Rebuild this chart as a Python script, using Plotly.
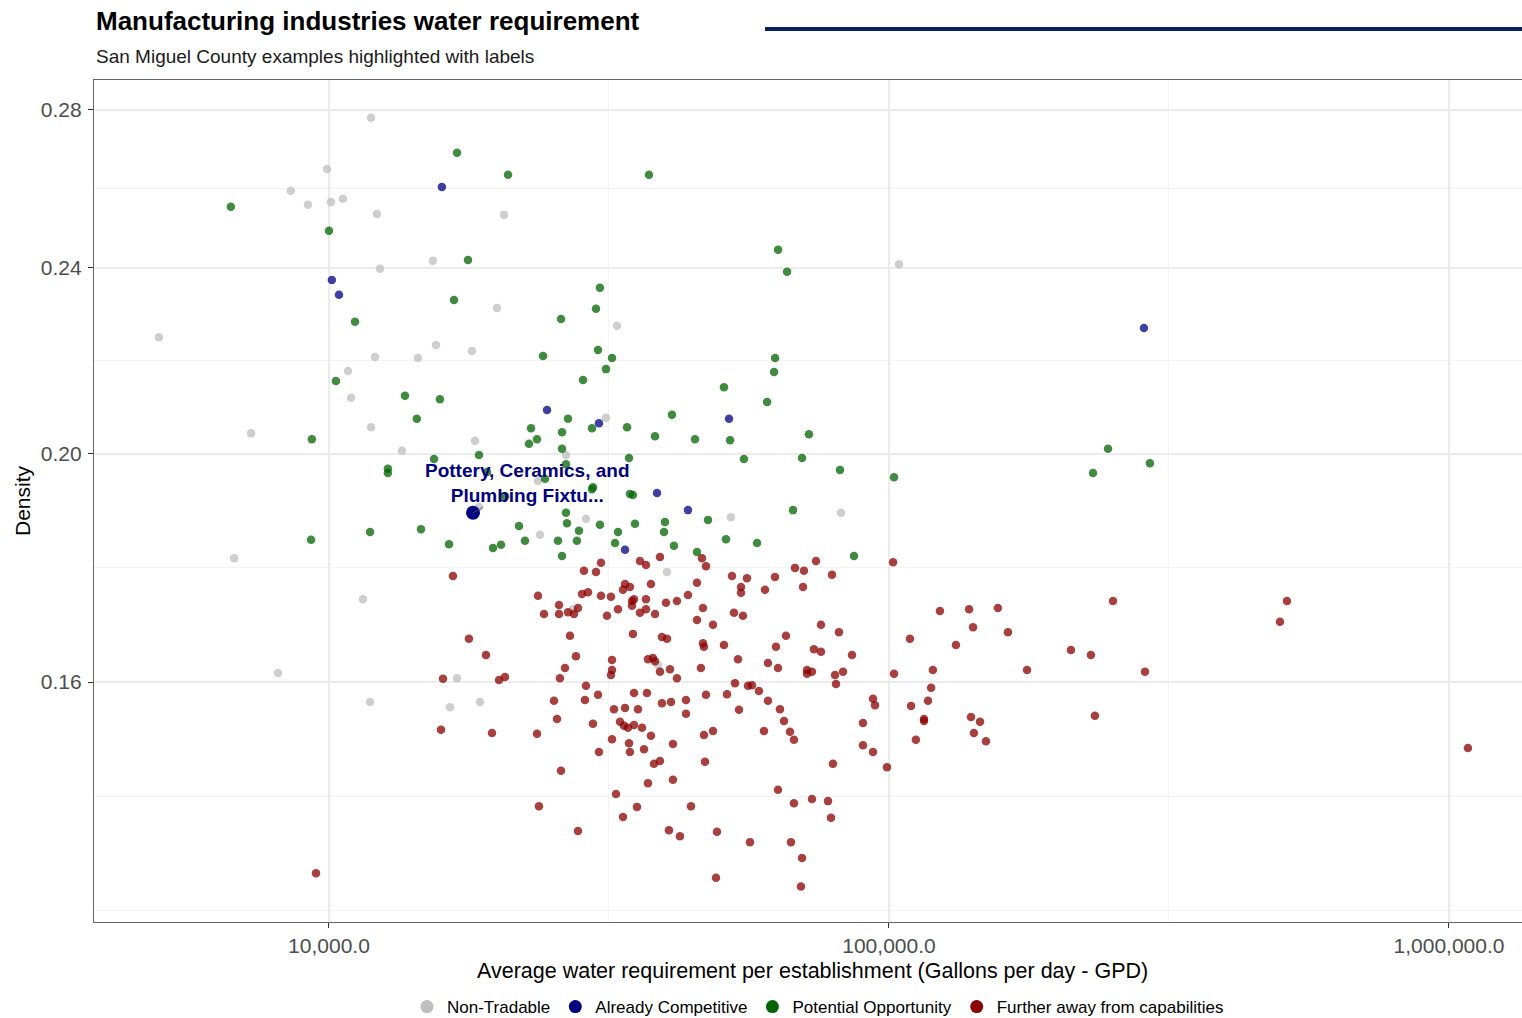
import math
import plotly.graph_objects as go

# ---------------- data ----------------
categories = ["Non-Tradable", "Already Competitive", "Potential Opportunity",
              "Further away from capabilities"]
cat_colors = ["#BEBEBE", "#000080", "#006400", "#8B0000"]

nontradable_gpd = [11890, 9920, 8550, 9170, 10080, 10590, 12180, 12330, 4970, 12080,
                   14410, 10810, 10950, 7260, 11890, 13500, 6770, 11500, 8110, 11840,
                   15330, 20540, 19950, 32680, 15530, 18000, 31240, 18230, 26500, 23620,
                   18530, 28770, 23810, 52220, 104200, 82090, 40140, 27270, 38680, 16930,
                   16450, 18610]
nontradable_density = [0.2779, 0.2643, 0.2587, 0.2552, 0.2559, 0.2567, 0.2529, 0.2397, 0.2242, 0.2199,
                       0.2197, 0.2169, 0.2113, 0.2041, 0.2053, 0.2006, 0.1806, 0.1735, 0.1614, 0.1569,
                       0.2416, 0.2527, 0.2307, 0.2267, 0.2225, 0.2212, 0.2072, 0.2026, 0.1998, 0.1948,
                       0.1899, 0.1877, 0.1848, 0.1880, 0.2408, 0.1888, 0.1782, 0.1718, 0.1627, 0.1606,
                       0.1561, 0.1569]

competitive_gpd = [15910, 10120, 10420, 24510, 30350, 51810, 38530, 43760, 33780, 285300]
competitive_density = [0.2597, 0.2371, 0.2337, 0.2088, 0.2061, 0.2070, 0.1925, 0.1893, 0.1821, 0.2262]

opportunity_gpd = [6680, 10000, 11130, 10290, 13670, 14350, 9320, 12740, 12740, 9290,
                   11840, 14600, 16930, 20880, 37280, 17710, 63380, 65770, 30470, 16720,
                   29980, 25960, 24110, 30230, 32020, 31240, 28420, 15780, 26720, 22950,
                   29490, 34060, 26070, 23520, 22760, 26070, 18530, 15400, 26500, 34340,
                   24310, 29610, 29490, 19150, 34470, 34900, 26500, 26610, 30470, 21840,
                   27950, 27720, 25640, 22390, 16380, 19630, 20290, 26070, 32420, 32820,
                   20620, 35190, 39810, 39650, 41310, 45410, 47510, 51160, 58130, 67400,
                   40970, 38210, 45040, 52030, 55080, 50740, 62600, 62340, 60570, 71970,
                   69930, 81750, 102100, 246100, 231400, 292400, 86600]
opportunity_density = [0.2547, 0.2488, 0.2276, 0.2148, 0.2117, 0.2070, 0.2029, 0.1971, 0.1963, 0.1839,
                       0.1853, 0.1858, 0.2685, 0.2628, 0.2628, 0.2418, 0.2442, 0.2390, 0.2353, 0.2325,
                       0.2305, 0.2282, 0.2201, 0.2214, 0.2197, 0.2173, 0.2150, 0.2110, 0.2070, 0.2051,
                       0.2051, 0.2053, 0.2043, 0.2029, 0.2020, 0.2010, 0.1998, 0.1990, 0.1980, 0.1992,
                       0.1952, 0.1936, 0.1932, 0.1965, 0.1923, 0.1921, 0.1888, 0.1869, 0.1866, 0.1864,
                       0.1855, 0.1837, 0.1837, 0.1837, 0.1831, 0.1824, 0.1830, 0.1810, 0.1833, 0.1853,
                       0.1919, 0.1868, 0.1871, 0.1853, 0.1828, 0.1817, 0.1875, 0.1840, 0.1833, 0.1893,
                       0.2078, 0.2035, 0.2029, 0.2027, 0.1990, 0.2135, 0.2197, 0.2167, 0.2104, 0.2039,
                       0.1992, 0.1969, 0.1955, 0.2010, 0.1963, 0.1982, 0.1810]

further_gpd = [9480, 16650, 30600, 28530, 29980, 35920, 36820, 39000, 46350, 47120,
               52440, 55770, 62580, 67940, 70500, 74070, 54420, 54420, 60060, 70220,
               45410, 37580, 33780, 34470, 33500, 23620, 28300, 29010, 30600, 31880,
               35050, 34760, 34760, 36820, 39970, 41820, 43760, 25750, 27840, 26720,
               27380, 24210, 25750, 31360, 32820, 35920, 36820, 38210, 46540, 52870,
               54860, 45410, 48500, 65470, 62840, 73460, 17780, 26940, 34900, 39320,
               40140, 46540, 46730, 50740, 19070, 27610, 32020, 37120, 37890, 38210,
               53750, 60800, 63360, 71380, 72860, 71380, 46160, 40640, 39000, 26390,
               32020, 31880, 15980, 20120, 20620, 25850, 41820, 53090, 56000, 56930,
               58590, 28770, 30230, 35050, 36970, 47120, 51370, 60800, 25220, 28650,
               39320, 40810, 43400, 32280, 33780, 35630, 43400, 53970, 63880, 25540,
               29610, 33090, 33640, 34190, 35050, 36220, 64940, 15850, 19550, 23520,
               46730, 48500, 59810, 66560, 37580, 32020, 34340, 34470, 36520, 41140,
               67660, 30350, 25960, 38050, 39000, 46930, 37120, 41140, 63360, 67660,
               72860, 32550, 23710, 35480, 44300, 33500, 27840, 40470, 42340, 49300,
               56470, 66830, 69930, 49100, 69640, 75610, 81420, 79110, 101700, 251200,
               123300, 139000, 156500, 141300, 163100, 109000, 131700, 75610, 85890, 211300,
               229400, 80090, 82770, 80420, 102100, 119800, 176400, 286500, 118900, 93630,
               94410, 117400, 109500, 115500, 115500, 140100, 145400, 141800, 149000, 233200,
               89860, 111700, 89860, 93630, 79430, 99180, 77820, 78780, 513700, 499100,
               1081000]
further_density = [0.1327, 0.1775, 0.1798, 0.1784, 0.1782, 0.1801, 0.1794, 0.1808, 0.1806, 0.1792,
                   0.1775, 0.1771, 0.1773, 0.1789, 0.1784, 0.1801, 0.1756, 0.1746, 0.1751, 0.1756,
                   0.1763, 0.1761, 0.1761, 0.1756, 0.1751, 0.1741, 0.1744, 0.1747, 0.1741, 0.1739,
                   0.1735, 0.1732, 0.1724, 0.1735, 0.1729, 0.1732, 0.1742, 0.1725, 0.1720, 0.1713,
                   0.1710, 0.1710, 0.1710, 0.1707, 0.1718, 0.1712, 0.1718, 0.1710, 0.1720, 0.1712,
                   0.1707, 0.1700, 0.1692, 0.1674, 0.1656, 0.1652, 0.1669, 0.1674, 0.1677, 0.1672,
                   0.1669, 0.1662, 0.1656, 0.1659, 0.1643, 0.1641, 0.1635, 0.1636, 0.1638, 0.1633,
                   0.1636, 0.1630, 0.1622, 0.1619, 0.1616, 0.1613, 0.1622, 0.1620, 0.1616, 0.1622,
                   0.1619, 0.1611, 0.1605, 0.1603, 0.1608, 0.1606, 0.1606, 0.1598, 0.1594, 0.1595,
                   0.1586, 0.1594, 0.1580, 0.1583, 0.1583, 0.1580, 0.1581, 0.1571, 0.1571, 0.1572,
                   0.1567, 0.1569, 0.1572, 0.1558, 0.1560, 0.1558, 0.1551, 0.1557, 0.1558, 0.1543,
                   0.1536, 0.1539, 0.1533, 0.1530, 0.1534, 0.1530, 0.1540, 0.1527, 0.1522, 0.1521,
                   0.1519, 0.1525, 0.1525, 0.1524, 0.1518, 0.1513, 0.1507, 0.1494, 0.1498, 0.1506,
                   0.1512, 0.1494, 0.1467, 0.1477, 0.1481, 0.1480, 0.1449, 0.1454, 0.1440, 0.1421,
                   0.1427, 0.1434, 0.1417, 0.1416, 0.1417, 0.1402, 0.1383, 0.1384, 0.1376, 0.1382,
                   0.1368, 0.1368, 0.1347, 0.1321, 0.1310, 0.1692, 0.1680, 0.1777, 0.1799, 0.1732,
                   0.1715, 0.1718, 0.1720, 0.1688, 0.1680, 0.1669, 0.1659, 0.1648, 0.1643, 0.1651,
                   0.1643, 0.1611, 0.1616, 0.1597, 0.1613, 0.1619, 0.1619, 0.1616, 0.1591, 0.1574,
                   0.1564, 0.1571, 0.1563, 0.1543, 0.1540, 0.1546, 0.1539, 0.1522, 0.1510, 0.1548,
                   0.1537, 0.1512, 0.1504, 0.1494, 0.1477, 0.1472, 0.1424, 0.1401, 0.1732, 0.1697,
                   0.1500]

highlight_name = "Pottery, Ceramics, and<br>Plumbing Fixtu..."
highlight_gpd = 18080
highlight_density = 0.1888

x_ticks = [10000, 100000, 1000000]
y_ticks = [0.16, 0.20, 0.24, 0.28]

# ---------------- figure ----------------
fig = go.Figure()

series = [
    (categories[0], cat_colors[0], nontradable_gpd, nontradable_density),
    (categories[2], cat_colors[2], opportunity_gpd, opportunity_density),
    (categories[1], cat_colors[1], competitive_gpd, competitive_density),
    (categories[3], cat_colors[3], further_gpd, further_density),
]
for name, col, xs, ys in series:
    fig.add_trace(go.Scatter(
        x=xs, y=ys, mode="markers", name=name, showlegend=False,
        marker=dict(size=8.5, color=col, opacity=0.75, line=dict(width=0)),
    ))

# legend entries
for name, col in zip(categories, cat_colors):
    fig.add_trace(go.Scatter(
        x=[None], y=[None], mode="markers", name=name, showlegend=True,
        marker=dict(size=13, color=col, line=dict(width=0)),
    ))

# highlighted example
fig.add_trace(go.Scatter(
    x=[highlight_gpd], y=[highlight_density], mode="markers", showlegend=False,
    marker=dict(size=14, color="#000080", line=dict(width=0)),
))

# geometric midpoints for minor gridlines (ggplot style)
def minor_breaks(ticks, extend_low=False):
    mids = [math.sqrt(a * b) for a, b in zip(ticks, ticks[1:])]
    if extend_low:
        r = ticks[0] / ticks[1]
        mids = [ticks[0] * r, ticks[0] * math.sqrt(r)] + mids
    return mids

grid_major = "#EBEBEB"
grid_minor = "#F3F3F3"
axis_text = dict(size=21, color="#4D4D4D")

fig.update_xaxes(
    type="log", range=[3.5804, 6.1304],
    tickmode="array", tickvals=x_ticks, tickformat=",.1f",
    tickfont=axis_text, ticks="outside", ticklen=5, tickcolor="#333333", tickwidth=1,
    showgrid=True, gridcolor=grid_major, gridwidth=2,
    minor=dict(tickmode="array", tickvals=minor_breaks(x_ticks), showgrid=True,
               gridcolor=grid_minor, gridwidth=1, ticks=""),
    showline=True, linecolor="#666666", linewidth=1.3, mirror=True,
    zeroline=False,
)
fig.update_yaxes(
    type="log", range=[-0.89785, -0.54010],
    tickmode="array", tickvals=y_ticks, tickformat=".2f",
    tickfont=axis_text, ticks="outside", ticklen=5, tickcolor="#333333", tickwidth=1,
    ticklabelstandoff=2,
    showgrid=True, gridcolor=grid_major, gridwidth=2,
    minor=dict(tickmode="array", tickvals=minor_breaks(y_ticks, extend_low=True), showgrid=True,
               gridcolor=grid_minor, gridwidth=1, ticks=""),
    showline=True, linecolor="#666666", linewidth=1.3, mirror=False,
    zeroline=False,
)

annotations = [
    dict(text="<b>Manufacturing industries water requirement</b>", xref="paper", yref="paper",
         x=0, y=1.0701, xanchor="left", yanchor="middle", showarrow=False,
         font=dict(size=26, color="#000000")),
    dict(text="San Miguel County examples highlighted with labels", xref="paper", yref="paper",
         x=0, y=1.0285, xanchor="left", yanchor="middle", showarrow=False,
         font=dict(size=19, color="#1A1A1A")),
    dict(text="Average water requirement per establishment (Gallons per day - GPD)",
         xref="paper", yref="paper", x=0.5035, y=-0.0582, xanchor="center", yanchor="middle",
         showarrow=False, font=dict(size=21.5, color="#000000")),
    dict(text="Density", xref="paper", yref="paper", x=-0.0504, y=0.5, textangle=-90,
         xanchor="center", yanchor="middle", showarrow=False,
         font=dict(size=21, color="#000000")),
    dict(text="<b>" + highlight_name + "</b>", x=math.log10(highlight_gpd), y=math.log10(highlight_density),
         xref="x", yref="y", showarrow=True, arrowhead=0, arrowwidth=0.8, arrowcolor="#555555",
         ax=54, ay=-30, font=dict(size=19, color="#000080"), align="center"),
]

fig.update_layout(
    width=1522, height=1018,
    margin=dict(l=94, r=0, t=80, b=96, autoexpand=False),
    plot_bgcolor="white", paper_bgcolor="white",
    font=dict(family="Liberation Sans, Arial, sans-serif", color="#000000"),
    annotations=annotations,
    shapes=[dict(type="line", xref="paper", yref="paper", x0=0.4699, x1=1.0, y0=1.0606, y1=1.0606,
                 line=dict(color="#0B1F5E", width=4))],
    legend=dict(orientation="h", xref="paper", x=0.507, xanchor="center",
                yref="container", y=0.0108, yanchor="middle",
                font=dict(size=17, color="#000000"), bgcolor="rgba(0,0,0,0)",
                itemwidth=30, traceorder="normal"),
)

fig.write_html("out.html", config={"displayModeBar": False},
               post_script="document.body.style.margin='0';")
